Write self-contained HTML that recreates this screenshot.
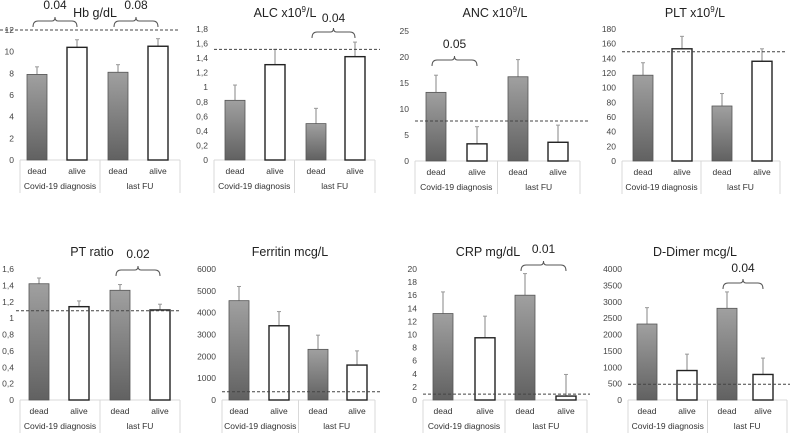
<!DOCTYPE html>
<html><head><meta charset="utf-8"><style>
body{margin:0;background:#fff}
svg{display:block;font-family:"Liberation Sans",sans-serif}
</style></head><body>
<svg id="c" width="790" height="433" viewBox="0 0 790 433">
<defs><linearGradient id="g" x1="0" y1="0" x2="0" y2="1"><stop offset="0" stop-color="#a0a0a0"/><stop offset="1" stop-color="#616161"/></linearGradient></defs>
</svg>
<script>
const categories = ["dead","alive","dead","alive"];
const groups = ["Covid-19 diagnosis","last FU"];
const hbValues = [7.9,10.4,8.1,10.5];
const hbErrors = [0.7,0.7,0.7,0.7];
const hbTicks = [0,2,4,6,8,10,12];
const alcValues = [0.82,1.31,0.5,1.42];
const alcErrors = [0.21,0.21,0.21,0.2];
const alcTicks = [0,0.2,0.4,0.6,0.8,1,1.2,1.4,1.6,1.8];
const ancValues = [13.2,3.3,16.2,3.6];
const ancErrors = [3.3,3.3,3.3,3.3];
const ancTicks = [0,5,10,15,20,25];
const pltValues = [117,153,75,136];
const pltErrors = [17,17,17,17];
const pltTicks = [0,20,40,60,80,100,120,140,160,180];
const ptValues = [1.42,1.14,1.34,1.10];
const ptErrors = [0.07,0.07,0.07,0.07];
const ptTicks = [0,0.2,0.4,0.6,0.8,1,1.2,1.4,1.6];
const ferValues = [4550,3400,2320,1600];
const ferErrors = [650,650,650,650];
const ferTicks = [0,1000,2000,3000,4000,5000,6000];
const crpValues = [13.2,9.5,16,0.6];
const crpErrors = [3.3,3.3,3.3,3.3];
const crpTicks = [0,2,4,6,8,10,12,14,16,18,20];
const ddValues = [2320,900,2800,780];
const ddErrors = [500,500,500,500];
const ddTicks = [0,500,1000,1500,2000,2500,3000,3500,4000];
const refLines = [12,1.52,7.7,149,1.09,380,0.9,480];
const pValues = ["0.04","0.08","0.04","0.05","0.02","0.01","0.04"];

const panels = [
 {name:"hb",title:"Hb g/dL",vals:hbValues,errs:hbErrors,ticks:hbTicks,ref:refLines[0],x0:20,x1:180,y0:160,yt:30,tx:95,ty:17,bars:[27,67,108,148],rl:[0,180],br:[[0,pValues[0],21,5],[1,pValues[1],21,5]],dec:0},
 {name:"alc",title:"ALC x10",sup:true,vals:alcValues,errs:alcErrors,ticks:alcTicks,ref:refLines[1],x0:214,x1:375,y0:160,yt:29,tx:285,ty:17,bars:[225,265,306,345],rl:[214,380],br:[[1,pValues[2],32,18]],dec:1},
 {name:"anc",title:"ANC x10",sup:true,vals:ancValues,errs:ancErrors,ticks:ancTicks,ref:refLines[2],x0:415,x1:580,y0:161,yt:31,tx:495,ty:17,bars:[426,467,508,548],rl:[415,590],br:[[0,pValues[3],60,44]],dec:0},
 {name:"plt",title:"PLT x10",sup:true,vals:pltValues,errs:pltErrors,ticks:pltTicks,ref:refLines[3],x0:622,x1:780,y0:161,yt:29,tx:695,ty:17,bars:[633,672,712,752],rl:[622,785],br:[],dec:0},
 {name:"pt",title:"PT ratio",vals:ptValues,errs:ptErrors,ticks:ptTicks,ref:refLines[4],x0:20,x1:180,y0:400,yt:269,tx:92,ty:256,bars:[29,69,110,150],rl:[16,180],br:[[1,pValues[4],270,254]],dec:1},
 {name:"ferritin",title:"Ferritin mcg/L",vals:ferValues,errs:ferErrors,ticks:ferTicks,ref:refLines[5],x0:222,x1:375,y0:400,yt:269,tx:290,ty:256,bars:[229,269,308,347],rl:[222,380],br:[],dec:0},
 {name:"crp",title:"CRP mg/dL",vals:crpValues,errs:crpErrors,ticks:crpTicks,ref:refLines[6],x0:423,x1:587,y0:400,yt:269,tx:488,ty:256,bars:[433,475,515,556],rl:[423,590],br:[[1,pValues[5],265,249]],dec:0},
 {name:"d-dimer",title:"D-Dimer mcg/L",vals:ddValues,errs:ddErrors,ticks:ddTicks,ref:refLines[7],x0:628,x1:787,y0:400,yt:269,tx:695,ty:256,bars:[637,677,717,753],rl:[628,790],br:[[1,pValues[6],283,268]],dec:0}
];
const svg=document.getElementById('c');
const NS="http://www.w3.org/2000/svg";
function mk(tag,attrs,parent,text){const e=document.createElementNS(NS,tag);for(const k in attrs)e.setAttribute(k,attrs[k]);if(text!==undefined)e.textContent=text;(parent||svg).appendChild(e);return e;}
const BW=20;
panels.forEach(p=>{
 const g=mk('g',{});
 
 
 const max=p.ticks[p.ticks.length-1];
 const y=v=>p.y0-(v/max)*(p.y0-p.yt);
 p.ticks.forEach(t=>{
  const lab=p.dec?String(t.toFixed(1)).replace(/\.0$/,'').replace('.',','):String(t);
  const tl=mk('text',{x:p.x0-6,y:y(t)+3,'text-anchor':'end','font-size':8.5,fill:'#444'},g,lab);
  
  
 });
 const cb=mk('g',{stroke:'#d9d9d9','stroke-width':1,fill:'none'},g);
 
 
 const xm=(p.x0+p.x1)/2;
 mk('line',{x1:p.x0,y1:p.y0,x2:p.x1,y2:p.y0},cb);
 mk('line',{x1:p.x0,y1:p.y0,x2:p.x0,y2:p.y0+33},cb);
 mk('line',{x1:xm,y1:p.y0,x2:xm,y2:p.y0+33},cb);
 mk('line',{x1:p.x1,y1:p.y0,x2:p.x1,y2:p.y0+33},cb);
 p.vals.forEach((v,i)=>{
  const bx=p.bars[i];
  const top=y(v);
  const eb=mk('line',{x1:bx+BW/2,y1:top,x2:bx+BW/2,y2:y(v+p.errs[i]),stroke:'#999','stroke-width':1.2},g);
  
  
  mk('line',{x1:bx+BW/2-2,y1:y(v+p.errs[i]),x2:bx+BW/2+2,y2:y(v+p.errs[i]),stroke:'#999','stroke-width':1},g);
  const dead=categories[i]==="dead";
  const r=mk('rect',{x:bx,y:top,width:BW,height:p.y0-top,fill:dead?'url(#g)':'#fff',stroke:dead?'#555':'#222','stroke-width':dead?0.8:1.4},g);
  
  
  const cl=mk('text',{x:bx+BW/2,y:p.y0+14,'text-anchor':'middle','font-size':8.5,fill:'#333'},g,categories[i]);
  
  
 });
 groups.forEach((gn,j)=>{
  const cx=j===0?(p.x0+xm)/2:(xm+p.x1)/2;
  const gl=mk('text',{x:cx,y:p.y0+29,'text-anchor':'middle','font-size':8.5,fill:'#333'},g,gn);
  
  
 });
 const rl=mk('line',{x1:p.rl[0],y1:y(p.ref),x2:p.rl[1],y2:y(p.ref),stroke:'#444','stroke-width':1,'stroke-dasharray':'3,2'},g);
 
 
 p.br.forEach(b=>{
  const gi=b[0];const xa=p.bars[gi*2]+6, xb=p.bars[gi*2+1]+10;const by=b[2];const c=(xa+xb)/2;
  const bg=mk('g',{},g);
  
  
  mk('path',{d:`M${xa},${by+6} Q${xa},${by} ${xa+5},${by} L${c-3},${by} Q${c},${by} ${c},${by-4} Q${c},${by} ${c+3},${by} L${xb-5},${by} Q${xb},${by} ${xb},${by+6}`,fill:'none',stroke:'#555','stroke-width':1},bg);
  mk('text',{x:c,y:b[3]+4,'text-anchor':'middle','font-size':12,fill:'#222'},bg,b[1]);
 });
 const t=mk('text',{x:p.tx,y:p.ty,'text-anchor':'middle','font-size':12.5,fill:'#222'},g);
 
 
 if(p.sup){t.textContent=p.title;mk('tspan',{'font-size':8,dy:-5},t,'9');mk('tspan',{dy:5},t,'/L');}
 else t.textContent=p.title;
});
</script>
</body></html>
